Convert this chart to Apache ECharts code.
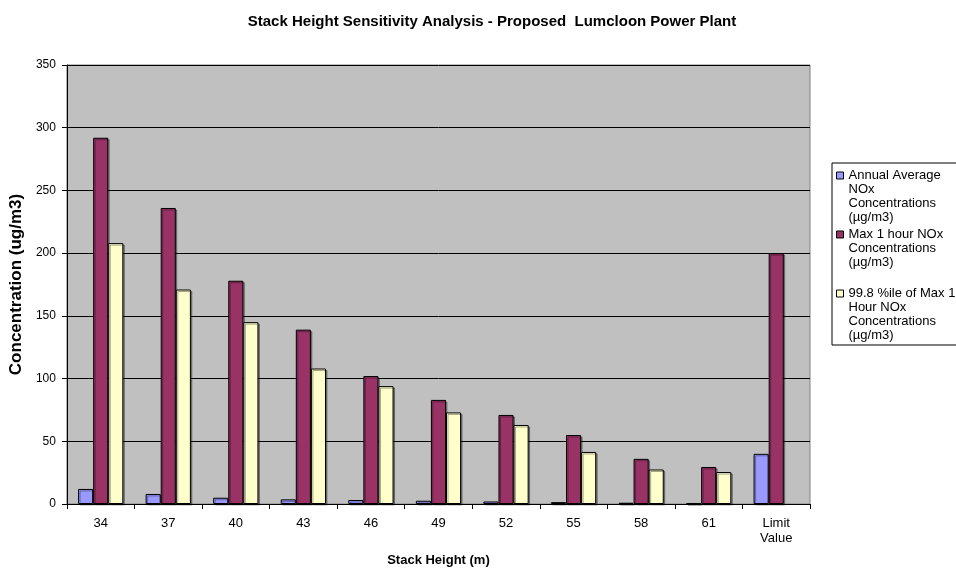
<!DOCTYPE html>
<html>
<head>
<meta charset="utf-8">
<script src="https://cdn.jsdelivr.net/npm/echarts@6/dist/echarts.min.js"></script>
<style>html,body{margin:0;padding:0;background:#fff;}#c{width:956px;height:572px;}</style>
</head>
<body>
<div id="c"></div>
<script>
var categories = ['34', '37', '40', '43', '46', '49', '52', '55', '58', '61', 'Limit\nValue'];
var seriesNames = [
  'Annual Average NOx Concentrations (µg/m3)',
  'Max 1 hour NOx Concentrations (µg/m3)',
  '99.8 %ile of Max 1 Hour NOx Concentrations (µg/m3)'
];
var legendLabels = [
  'Annual Average\nNOx\nConcentrations\n(µg/m3)',
  'Max 1 hour NOx\nConcentrations\n(µg/m3)\n ',
  '99.8 %ile of Max 1\nHour NOx\nConcentrations\n(µg/m3)'
];
var annualAvg = [12, 8, 5, 3.7, 3.2, 2.6, 2, 1.5, 1, 0.8, 40];
var max1Hour = [292, 236, 178, 139, 102, 83, 71, 55, 36, 29.5, 200];
var pct998 = [208, 171, 145, 108, 94, 73, 63, 41.5, 27.5, 25.5, null];
var yTicks = {min: 0, max: 350, interval: 50};

var colors = ['#9999FF', '#993366', '#FFFFCC'];
var font = 'Liberation Sans, Arial, sans-serif';
var chart = echarts.init(document.getElementById('c'), null, {renderer: 'canvas'});

function barSeries(i, data) {
  return {
    name: seriesNames[i],
    type: 'bar',
    data: data,
    barGap: '0%',
    barCategoryGap: '33%',
    itemStyle: {
      color: colors[i],
      borderColor: '#000',
      borderWidth: 1,
      shadowColor: 'rgba(0,0,0,0.35)',
      shadowOffsetX: 1.5,
      shadowOffsetY: 1.5,
      shadowBlur: 0
    },
    emphasis: {disabled: true},
    animation: false
  };
}

chart.setOption({
  animation: false,
  backgroundColor: '#fff',
  textStyle: {fontFamily: font},
  title: {
    text: 'Stack Height Sensitivity Analysis - Proposed  Lumcloon Power Plant',
    left: 487, top: 9,
    textAlign: 'center',
    textStyle: {fontFamily: font, fontSize: 15, fontWeight: 'bold', color: '#000'}
  },
  legend: {
    orient: 'vertical',
    left: 832, top: 163,
    padding: [5, 20, 2, 4],
    itemWidth: 7, itemHeight: 56,
    itemGap: 2,
    icon: 'path://M0,3.5h7v7h-7zM0,0M0,56',
    borderColor: '#000', borderWidth: 1,
    backgroundColor: '#fff',
    selectedMode: false,
    itemStyle: {borderColor: '#000', borderWidth: 1},
    formatter: function (name) { return legendLabels[seriesNames.indexOf(name)]; },
    textStyle: {fontFamily: font, fontSize: 13, color: '#000', lineHeight: 14},
    data: seriesNames
  },
  grid: {
    left: 64, right: 146, top: 65, bottom: 68,
    show: true, backgroundColor: '#C0C0C0', borderColor: '#808080', borderWidth: 1,
    containLabel: false
  },
  xAxis: {
    type: 'category',
    data: categories,
    name: 'Stack Height (m)',
    nameLocation: 'middle',
    nameGap: 50,
    nameTextStyle: {fontFamily: font, fontSize: 13, fontWeight: 'bold', color: '#000'},
    axisLine: {show: true, lineStyle: {color: '#000', width: 1}},
    axisTick: {show: true, alignWithLabel: false, length: 5, lineStyle: {color: '#000'}},
    axisLabel: {fontFamily: font, fontSize: 13, color: '#000', margin: 12, lineHeight: 15, interval: 0}
  },
  yAxis: {
    type: 'value',
    min: yTicks.min, max: yTicks.max, interval: yTicks.interval,
    name: 'Concentration (ug/m3)',
    nameLocation: 'middle',
    nameGap: 38,
    nameTextStyle: {fontFamily: font, fontSize: 17, fontWeight: 'bold', color: '#000'},
    axisLine: {show: true, lineStyle: {color: '#000', width: 1}},
    axisTick: {show: true, length: 5, lineStyle: {color: '#000'}},
    axisLabel: {fontFamily: font, fontSize: 12, color: '#000', margin: 11},
    splitLine: {show: true, lineStyle: {color: '#000', width: 1}}
  },
  series: [
    barSeries(0, annualAvg),
    barSeries(1, max1Hour),
    barSeries(2, pct998)
  ]
});
</script>
</body>
</html>
